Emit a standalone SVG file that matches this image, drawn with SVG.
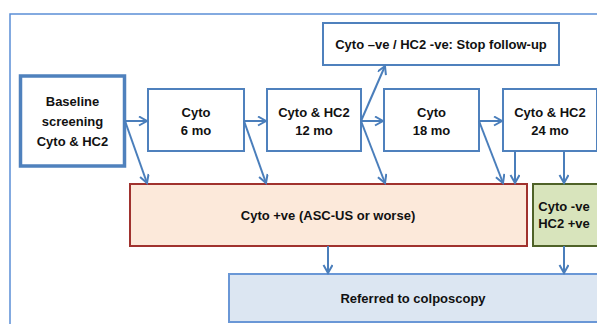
<svg xmlns="http://www.w3.org/2000/svg" width="597" height="324" viewBox="0 0 597 324">
<style>
text{font-family:"Liberation Sans",Arial,sans-serif;font-weight:bold;font-size:13px;fill:#111;text-anchor:middle}
.box{fill:#fff;stroke:#4F81BD;stroke-width:2}
.c{stroke:#4A7EBB;stroke-width:2;fill:none;marker-end:url(#ah)}
</style>
<defs>
<marker id="ah" markerUnits="userSpaceOnUse" markerWidth="12" markerHeight="12" refX="9" refY="5" orient="auto">
<path d="M1,0.5 L9,5 L1,9.5" fill="none" stroke="#4A7EBB" stroke-width="2"/>
</marker>
</defs>
<rect x="10" y="14" width="600" height="320" fill="none" stroke="#5B8ED6" stroke-width="1.5"/>
<g id="baseline"><rect x="20.5" y="76" width="104" height="90" class="box" stroke-width="3.5" style="stroke-width:3.5"/>
<text x="72.5" y="106" font-size="14">Baseline</text><text x="72.5" y="126" font-size="14">screening</text><text x="72.5" y="146" font-size="14">Cyto &amp; HC2</text></g>
<g id="cyto6"><rect x="148" y="89" width="96" height="62" class="box"/><text x="196" y="117">Cyto</text><text x="196" y="135">6 mo</text></g>
<g id="cyto12"><rect x="267" y="89" width="94" height="62" class="box"/><text x="314" y="117">Cyto &amp; HC2</text><text x="314" y="135">12 mo</text></g>
<g id="cyto18"><rect x="384" y="89" width="95" height="62" class="box"/><text x="431.5" y="117">Cyto</text><text x="431.5" y="135">18 mo</text></g>
<g id="cyto24"><rect x="503" y="89" width="94" height="62" class="box"/><text x="550" y="117">Cyto &amp; HC2</text><text x="550" y="135">24 mo</text></g>
<g id="stop"><rect x="323" y="23" width="236" height="42" class="box"/><text x="441" y="49">Cyto –ve / HC2 -ve: Stop follow-up</text></g>
<g id="pos"><rect x="130" y="184" width="397" height="62" fill="#FCE9DA" stroke="#A0322E" stroke-width="2"/><text x="328" y="220">Cyto +ve (ASC-US or worse)</text></g>
<g id="neg"><rect x="533" y="184" width="70" height="62" fill="#D8E4BC" stroke="#4F6228" stroke-width="2"/><text x="564" y="211">Cyto -ve</text><text x="564" y="228">HC2 +ve</text></g>
<g id="colpo"><rect x="229" y="274" width="372" height="48" fill="#DCE6F2" stroke="#6A97D6" stroke-width="2"/><text x="413" y="303">Referred to colposcopy</text></g>
<g id="connectors">
<path class="c" d="M125,121 L147,121"/>
<path class="c" d="M125,121 L147,183"/>
<path class="c" d="M244,121 L266,121"/>
<path class="c" d="M244,121 L266,183"/>
<path class="c" d="M361,121 L383,121"/>
<path class="c" d="M361,121 L385,183"/>
<path class="c" d="M361,121 L385,66"/>
<path class="c" d="M479,121 L502,121"/>
<path class="c" d="M479,121 L503,183"/>
<path class="c" d="M515,151 L515,183"/>
<path class="c" d="M564,151 L564,183"/>
<path class="c" d="M328,246 L328,273"/>
<path class="c" d="M564,246 L564,273"/>
</g>
</svg>
